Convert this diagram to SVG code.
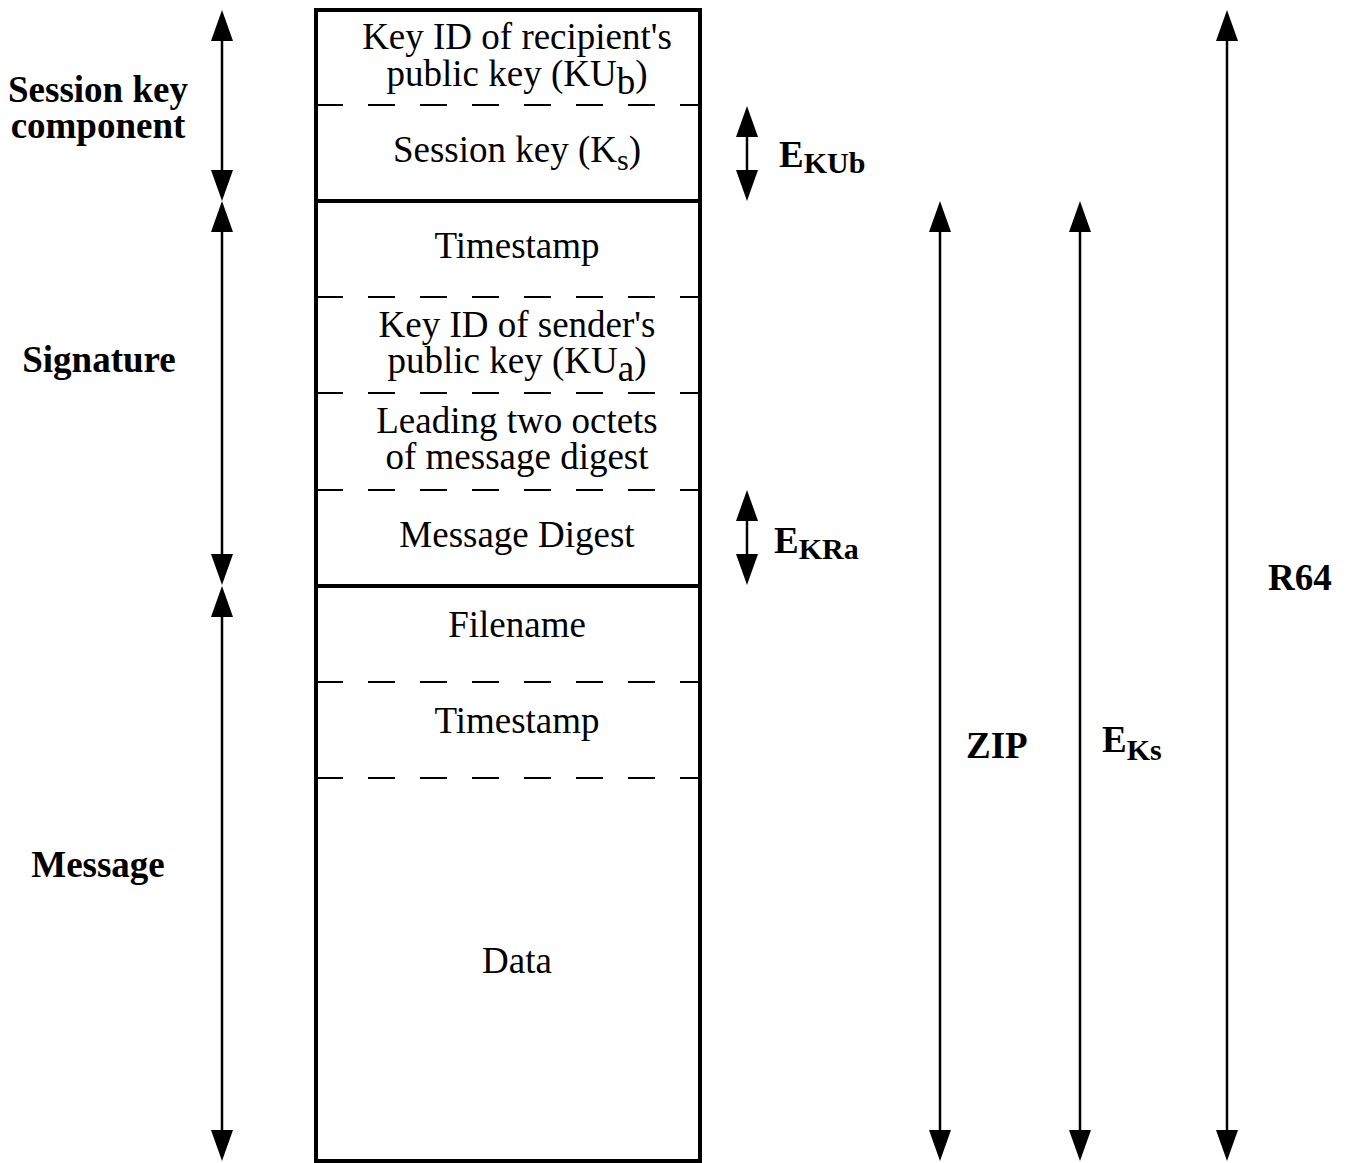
<svg xmlns="http://www.w3.org/2000/svg" width="1346" height="1163" viewBox="0 0 1346 1163">
<style>
.box{fill:none;stroke:#000;stroke-width:4}
.div{stroke:#000;stroke-width:4}
.dash{stroke:#000;stroke-width:2.2;stroke-dasharray:27 25}
.arr{stroke:#000;stroke-width:2.5;fill:none;marker-start:url(#ah);marker-end:url(#ah)}
.t{font-family:"Liberation Serif","Times New Roman",serif;font-size:37px;fill:#000;text-anchor:middle}
.b{font-family:"Liberation Serif","Times New Roman",serif;font-size:37px;font-weight:bold;fill:#000}
.bc{text-anchor:middle}
.sub{font-size:30px}
</style>
<defs>
<marker id="ah" viewBox="0 0 31 22" refX="0" refY="11" markerWidth="31" markerHeight="22" markerUnits="userSpaceOnUse" orient="auto-start-reverse">
<path d="M0,0 L31,11 L0,22 z" fill="#000"/>
</marker>
</defs>
<rect fill="#fff" x="0" y="0" width="1346" height="1163"/>
<g id="message-block">
<rect class="box" x="316" y="10" width="384" height="1151"/>
<line class="div" x1="316" y1="201" x2="700" y2="201"/>
<line class="div" x1="316" y1="586" x2="700" y2="586"/>
<line class="dash" x1="316" y1="105" x2="700" y2="105"/>
<line class="dash" x1="316" y1="297" x2="700" y2="297"/>
<line class="dash" x1="316" y1="393" x2="700" y2="393"/>
<line class="dash" x1="316" y1="490" x2="700" y2="490"/>
<line class="dash" x1="316" y1="682" x2="700" y2="682"/>
<line class="dash" x1="316" y1="778" x2="700" y2="778"/>
</g>
<g id="field-keyid-recipient">
<text class="t" x="517" y="49">Key ID of recipient's</text>
<text class="t" x="517" y="86">public key (KU<tspan dy="8">b</tspan><tspan dy="-8">)</tspan></text>
</g>
<g id="field-session-key">
<text class="t" x="517" y="162">Session key (K<tspan class="sub" dy="8">s</tspan><tspan dy="-8">)</tspan></text>
</g>
<g id="field-timestamp-sig">
<text class="t" x="517" y="258">Timestamp</text>
</g>
<g id="field-keyid-sender">
<text class="t" x="517" y="337">Key ID of sender's</text>
<text class="t" x="517" y="373">public key (KU<tspan dy="8">a</tspan><tspan dy="-8">)</tspan></text>
</g>
<g id="field-leading-octets">
<text class="t" x="517" y="433">Leading two octets</text>
<text class="t" x="517" y="469">of message digest</text>
</g>
<g id="field-message-digest">
<text class="t" x="517" y="547">Message Digest</text>
</g>
<g id="field-filename">
<text class="t" x="517" y="637">Filename</text>
</g>
<g id="field-timestamp-msg">
<text class="t" x="517" y="733">Timestamp</text>
</g>
<g id="field-data">
<text class="t" x="517" y="973">Data</text>
</g>
<g id="label-session-key-component">
<text class="b bc" x="98" y="102">Session key</text>
<text class="b bc" x="98" y="138">component</text>
</g>
<g id="label-signature">
<text class="b bc" x="99" y="372">Signature</text>
</g>
<g id="label-message">
<text class="b bc" x="98" y="877">Message</text>
</g>
<g id="label-ekub">
<text class="b" x="779" y="167">E<tspan class="sub" dy="6">KUb</tspan></text>
</g>
<g id="label-ekra">
<text class="b" x="774" y="553">E<tspan class="sub" dy="6">KRa</tspan></text>
</g>
<g id="label-zip">
<text class="b" x="966" y="758">ZIP</text>
</g>
<g id="label-eks">
<text class="b" x="1102" y="752">E<tspan class="sub" dy="8">Ks</tspan></text>
</g>
<g id="label-r64">
<text class="b" x="1268" y="590">R64</text>
</g>
<g id="connectors">
<line class="arr" x1="222" y1="41" x2="222" y2="170"/>
<line class="arr" x1="222" y1="232" x2="222" y2="554"/>
<line class="arr" x1="222" y1="617" x2="222" y2="1130"/>
<line class="arr" x1="747" y1="137" x2="747" y2="170"/>
<line class="arr" x1="747" y1="521" x2="747" y2="554"/>
<line class="arr" x1="940" y1="232" x2="940" y2="1130"/>
<line class="arr" x1="1080" y1="232" x2="1080" y2="1130"/>
<line class="arr" x1="1227" y1="41" x2="1227" y2="1130"/>
</g>
</svg>
